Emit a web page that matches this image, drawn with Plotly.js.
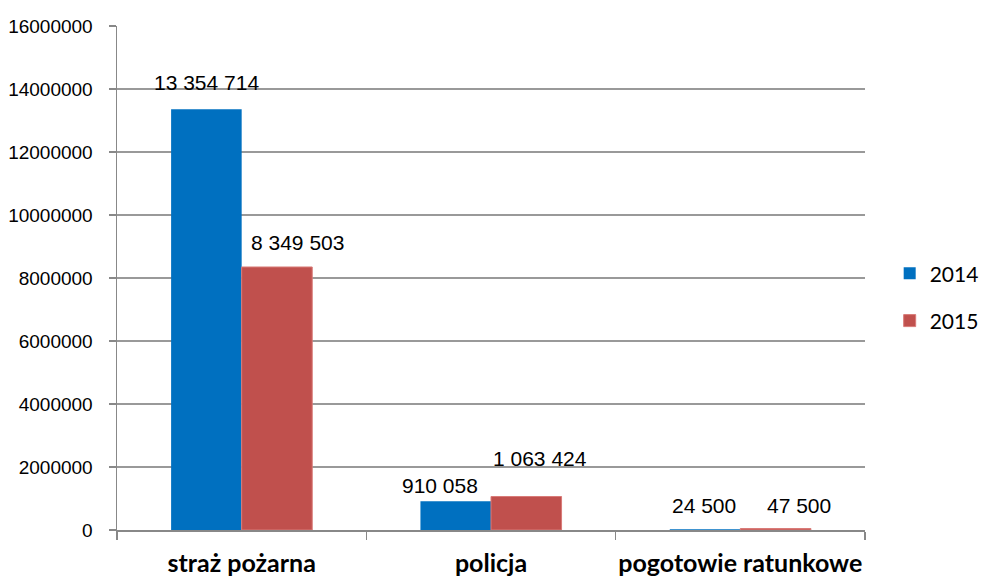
<!DOCTYPE html>
<html>
<head>
<meta charset="utf-8">
<script src="https://cdn.plot.ly/plotly-3.0.1.min.js"></script>
<style>html,body{margin:0;padding:0;background:#fff;}#chart{width:984px;height:579px;}</style>
</head>
<body>
<div id="chart"></div>
<script>
var categories = ["straż pożarna", "policja", "pogotowie ratunkowe"];
var seriesNames = ["2014", "2015"];
var values2014 = [13354714, 910058, 24500];
var values2015 = [8349503, 1063424, 47500];
var yTickVals = [0, 2000000, 4000000, 6000000, 8000000, 10000000, 12000000, 14000000, 16000000];

function fmt(v) { return String(v).replace(/\B(?=(\d{3})+(?!\d))/g, " "); }

var labelFont = {family: "Liberation Sans, Arial, sans-serif", size: 21, color: "#000"};

var traces = [
  {type: "bar", name: seriesNames[0], x: categories, y: values2014, legendgroup: "a",
   marker: {color: "#0070C0"}, hoverinfo: "none"},
  {type: "bar", name: seriesNames[1], x: categories, y: values2015, legendgroup: "b",
   marker: {color: "#C0504D", line: {color: "#D97B78", width: 1}}, hoverinfo: "none"}
];

// data-label placement (styling offsets, in pixels)
var lblShift2014 = {x: [-35, -51, -36], y: [27, 16, 24]};
var lblShift2015 = {x: [56, 49, 59], y: [24, 38, 23]};
var annotations = [];
categories.forEach(function (c, i) {
  annotations.push({x: c, y: values2014[i], xref: "x", yref: "y", text: fmt(values2014[i]),
    showarrow: false, xanchor: "center", yanchor: "middle", font: labelFont,
    xshift: lblShift2014.x[i], yshift: lblShift2014.y[i]});
  annotations.push({x: c, y: values2015[i], xref: "x", yref: "y", text: fmt(values2015[i]),
    showarrow: false, xanchor: "center", yanchor: "middle", font: labelFont,
    xshift: lblShift2015.x[i], yshift: lblShift2015.y[i]});
});

var layout = {
  width: 984, height: 579,
  margin: {l: 117, r: 119, t: 26, b: 49, autoexpand: false},
  paper_bgcolor: "#fff", plot_bgcolor: "#fff",
  barmode: "group", bargap: 0.434, bargroupgap: 0,
  showlegend: true,
  annotations: annotations,
  legend: {x: 1.033, xanchor: "left", y: 0.462, yanchor: "middle",
    font: {family: "Lato, Carlito, sans-serif", size: 21, color: "#000"},
    traceorder: "grouped", tracegroupgap: 17, itemwidth: 30},
  xaxis: {
    type: "category", tickson: "boundaries", ticks: "outside", ticklen: 8, tickcolor: "#888", tickwidth: 1.5,
    showline: true, linecolor: "#888", linewidth: 1.5, showgrid: false, tickangle: 0,
    tickfont: {family: "Lato, Carlito, sans-serif", size: 25, color: "#000", weight: "bold"},
    ticklabelstandoff: 10
  },
  yaxis: {
    range: [0, 16000000], tickvals: yTickVals, tickformat: "d",
    ticks: "outside", ticklen: 7, tickcolor: "#888", tickwidth: 1.5,
    showline: true, linecolor: "#888", linewidth: 1.5,
    showgrid: true, gridcolor: "#999", gridwidth: 1.5, zeroline: false,
    tickfont: {family: "Liberation Sans, Arial, sans-serif", size: 19, color: "#000"},
    ticklabelstandoff: 12
  }
};

Plotly.newPlot("chart", traces, layout, {staticPlot: true, displayModeBar: false});
</script>
</body>
</html>
